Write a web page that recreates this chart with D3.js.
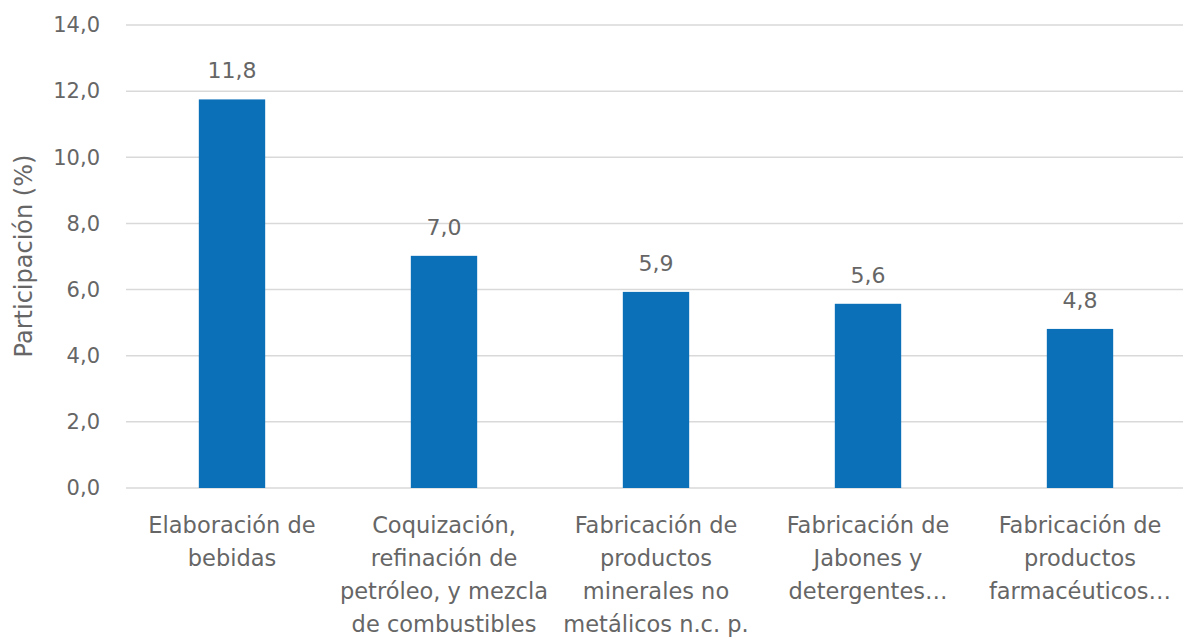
<!DOCTYPE html>
<html>
<head>
<meta charset="utf-8">
<script src="https://cdn.jsdelivr.net/npm/d3@7"></script>
<style>
  body { margin: 0; background: #fff; }
  svg { display: block; font-family: "DejaVu Sans", Lato, sans-serif; }
</style>
</head>
<body>
<script>
const categories = [
    ["Elaboración de", "bebidas"],
    ["Coquización,", "refinación de", "petróleo, y mezcla", "de combustibles"],
    ["Fabricación de", "productos", "minerales no", "metálicos n.c. p."],
    ["Fabricación de", "Jabones y", "detergentes…"],
    ["Fabricación de", "productos", "farmacéuticos…"]
];
const values = [11.75, 7.02, 5.93, 5.57, 4.81];
const valueLabels = ["11,8", "7,0", "5,9", "5,6", "4,8"];
const yTicks = [0, 2, 4, 6, 8, 10, 12, 14];

const width = 1183,
    height = 637,
    margin = { top: 25, right: -3, bottom: 149, left: 126 },
    textColor = "#666666",
    barColor = "#0b70b8",
    fmt = d => d.toFixed(1).replace(".", ",");

const svg = d3.select("body").append("svg")
    .attr("width", width)
    .attr("height", height);

const x = d3.scaleBand()
    .domain(d3.range(categories.length))
    .range([margin.left, width - margin.right])
    .paddingInner(0.687)
    .paddingOuter(0.3435);

const y = d3.scaleLinear()
    .domain([0, 14])
    .range([height - margin.bottom, margin.top]);

// gridlines
svg.append("g")
    .selectAll("line")
    .data(yTicks)
    .join("line")
    .attr("x1", margin.left)
    .attr("x2", width - margin.right)
    .attr("y1", d => y(d))
    .attr("y2", d => y(d))
    .attr("stroke", "#d9d9d9")
    .attr("stroke-width", 1.5);

// y tick labels
svg.append("g")
    .selectAll("text")
    .data(yTicks)
    .join("text")
    .attr("x", 100)
    .attr("y", d => y(d))
    .attr("dy", "0.35em")
    .attr("text-anchor", "end")
    .attr("fill", textColor)
    .style("font-size", "21px")
    .text(fmt);

// y axis title
svg.append("text")
    .attr("transform", "translate(32,256) rotate(-90)")
    .attr("text-anchor", "middle")
    .attr("fill", textColor)
    .style("font-size", "24px")
    .text("Participación (%)");

// bars
svg.append("g")
    .selectAll("rect")
    .data(values)
    .join("rect")
    .attr("x", (d, i) => x(i))
    .attr("width", x.bandwidth())
    .attr("y", d => y(d))
    .attr("height", d => y(0) - y(d))
    .attr("fill", barColor);

// value labels
svg.append("g")
    .selectAll("text")
    .data(values)
    .join("text")
    .attr("x", (d, i) => x(i) + x.bandwidth() / 2)
    .attr("y", d => y(d) - 21)
    .attr("text-anchor", "middle")
    .attr("fill", textColor)
    .style("font-size", "22px")
    .text((d, i) => valueLabels[i]);

// category labels
const cat = svg.append("g")
    .selectAll("text")
    .data(categories)
    .join("text")
    .attr("x", (d, i) => x(i) + x.bandwidth() / 2)
    .attr("y", 533)
    .attr("text-anchor", "middle")
    .attr("fill", textColor)
    .style("font-size", "22.5px");

cat.each(function (lines, i) {
    d3.select(this).selectAll("tspan")
        .data(lines)
        .join("tspan")
        .attr("x", x(i) + x.bandwidth() / 2)
        .attr("dy", (d, j) => j === 0 ? 0 : 33)
        .text(d => d);
});
</script>
</body>
</html>
